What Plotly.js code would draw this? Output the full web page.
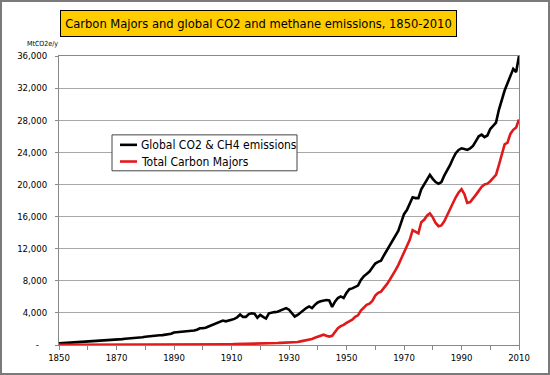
<!DOCTYPE html>
<html>
<head>
<meta charset="utf-8">
<script src="https://cdn.plot.ly/plotly-3.0.1.min.js"></script>
<style>
html,body{margin:0;padding:0;background:#fff;}
#wrap{position:relative;width:550px;height:375px;}
#chart{position:absolute;left:0;top:0;width:550px;height:375px;}
#frame{position:absolute;left:0;top:0;width:546px;height:371px;border:2px solid #7a7a7a;pointer-events:none;}
</style>
</head>
<body>
<div id="wrap"><div id="chart"></div><div id="frame"></div></div>
<script>
const chartTitle = "Carbon Majors and global CO2 and methane emissions, 1850-2010";
const unitLabel = "MtCO2e/y";
const seriesNames = ["Global CO2 & CH4 emissions", "Total Carbon Majors"];
const seriesColors = ["#000000", "#e0191b"];

const firstYear = 1850, lastYear = 2010;
const years = [];
for (let y = firstYear; y <= lastYear; y++) years.push(y);

const globalEmissions = [
  200,220,240,260,280,300,320,340,360,380,
  400,420,440,470,500,520,550,580,600,630,
  650,690,730,770,790,820,850,880,900,960,
  1030,1080,1130,1190,1200,1210,1230,1290,1370,1400,
  1560,1600,1610,1600,1650,1720,1760,1800,1900,2080,
  2100,2150,2300,2450,2500,2700,2850,3050,2950,3100,
  3150,3250,3450,3800,3500,3500,3850,3950,3900,3400,
  3750,3500,3300,3950,4050,4100,4150,4300,4400,4600,
  4400,3950,3550,3750,4050,4300,4600,4800,4600,5000,
  5300,5450,5500,5600,5550,4750,5400,5850,6050,5850,
  6500,6950,7050,7250,7400,8100,8550,8850,9150,9650,
  10150,10350,10500,11150,11750,12300,12900,13450,14200,15250,
  16300,16800,17600,18400,18300,18300,19400,20000,20500,21200,
  20700,20300,20100,20300,21100,21700,22400,23200,23900,24300,
  24500,24400,24300,24500,24800,25400,26000,26200,25900,26100,
  26900,27300,27700,29300,30600,31700,32600,33500,34400,34000,
  36000
];

const carbonMajors = [
  10,10,12,12,14,15,16,17,18,20,
  20,22,22,24,25,26,27,28,30,30,
  32,33,35,36,38,40,40,42,44,45,
  46,48,50,50,52,54,55,56,58,60,
  60,62,64,65,66,68,70,72,74,76,
  78,80,82,84,86,88,90,92,94,96,
  100,105,110,115,115,120,130,140,140,140,
  160,140,160,190,200,220,240,270,290,330,
  350,330,310,380,450,520,620,720,760,900,
  1020,1150,1280,1150,1050,1150,1700,2100,2350,2500,
  2750,2950,3150,3500,3700,4300,4700,5000,5150,5500,
  6150,6500,6650,7050,7550,8100,8650,9300,9950,10750,
  11700,12300,13100,14300,14100,13900,15300,15600,16100,16400,
  15900,15200,14800,14900,15400,16200,17000,17700,18400,19000,
  19400,18800,17700,17800,18200,18700,19200,19700,20000,20100,
  20400,20800,21200,22400,23600,25000,25200,26300,26800,27100,
  28100
];

const yTickVals = [0,4000,8000,12000,16000,20000,24000,28000,32000,36000];
const yTickText = ["-\u00a0\u00a0\u00a0","4,000","8,000","12,000","16,000","20,000","24,000","28,000","32,000","36,000"];
const xTickVals = [];
const xTickText = [];
for (let y = firstYear; y <= lastYear; y += 10) { xTickVals.push(y); xTickText.push((y - firstYear) % 20 === 0 ? String(y) : ""); }

const FONT = "DejaVu Sans Condensed, DejaVu Sans, sans-serif";
const W = 550, H = 375, L = 59, R = 519, T = 56, B = 345.5;
const px = x => (x - L) / (R - L);
const py = y => (B - y) / (B - T);

const traces = [
  {x: years, y: globalEmissions, name: seriesNames[0], type: "scatter", mode: "lines",
   line: {color: seriesColors[0], width: 2.6}, showlegend: false, cliponaxis: false},
  {x: years, y: carbonMajors, name: seriesNames[1], type: "scatter", mode: "lines",
   line: {color: seriesColors[1], width: 2.6}, showlegend: false, cliponaxis: false}
];

const legendBox = {x0: 112, x1: 297, y0: 135, y1: 171};
const legendRows = [145, 161.7];

const shapes = [
  {type: "rect", xref: "paper", yref: "paper", x0: px(legendBox.x0), x1: px(legendBox.x1),
   y0: py(legendBox.y1), y1: py(legendBox.y0), fillcolor: "#ffffff", line: {color: "#444444", width: 1}, layer: "above"}
];
const annotations = [
  {text: chartTitle, xref: "paper", yref: "paper", x: px(258.5), y: py(23.5), xanchor: "center", yanchor: "middle",
   showarrow: false, bgcolor: "#ffcc00", bordercolor: "#000000", borderwidth: 1, borderpad: 3,
   width: 389, height: 19, font: {family: FONT, size: 12.8, color: "#000"}},
  {text: unitLabel, xref: "paper", yref: "paper", x: px(42), y: py(44), xanchor: "center", yanchor: "middle",
   showarrow: false, font: {family: FONT, size: 7, color: "#000"}}
];
legendRows.forEach((ry, i) => {
  shapes.push({type: "line", xref: "paper", yref: "paper", x0: px(120), x1: px(137), y0: py(ry), y1: py(ry),
    line: {color: seriesColors[i], width: 2.6}, layer: "above"});
  annotations.push({text: seriesNames[i], xref: "paper", yref: "paper", x: px(139), y: py(ry),
    xanchor: "left", yanchor: "middle", showarrow: false, font: {family: FONT, size: 12, color: "#000"}});
});

const layout = {
  width: W, height: H,
  margin: {l: L, r: W - R, t: T, b: H - B, pad: 0},
  paper_bgcolor: "#ffffff", plot_bgcolor: "#ffffff",
  showlegend: false,
  xaxis: {range: [firstYear, lastYear], tickvals: xTickVals, ticktext: xTickText, ticks: "outside", ticklen: 4,
    tickcolor: "#888888", showgrid: false, zeroline: false, showline: true, linecolor: "#888888", linewidth: 1,
    mirror: true, tickfont: {family: FONT, size: 9.5, color: "#000"}, fixedrange: true},
  yaxis: {range: [0, 36000], tickvals: yTickVals, ticktext: yTickText, ticks: "outside", ticklen: 3,
    tickcolor: "#888888", showgrid: true, gridcolor: "#a8a8a8", gridwidth: 1, zeroline: false,
    showline: true, linecolor: "#888888", linewidth: 1, mirror: true, ticklabelstandoff: 6,
    tickfont: {family: FONT, size: 9.5, color: "#000"}, fixedrange: true},
  shapes: shapes,
  annotations: annotations
};

Plotly.newPlot("chart", traces, layout, {staticPlot: true, displayModeBar: false});
</script>
</body>
</html>
